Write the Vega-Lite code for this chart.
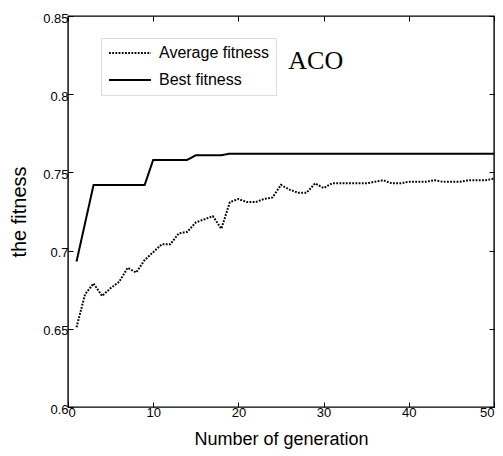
{
  "$schema": "https://vega.github.io/schema/vega-lite/v6.json",
  "width": 426,
  "height": 391,
  "autosize": "none",
  "padding": {"left": 68, "top": 16, "right": 9, "bottom": 49},
  "background": "white",
  "datasets": {
    "fit": [
      {"gen": 1, "fitness": 0.651, "series": "Average fitness"},
      {"gen": 2, "fitness": 0.672, "series": "Average fitness"},
      {"gen": 3, "fitness": 0.679, "series": "Average fitness"},
      {"gen": 4, "fitness": 0.671, "series": "Average fitness"},
      {"gen": 5, "fitness": 0.676, "series": "Average fitness"},
      {"gen": 6, "fitness": 0.680, "series": "Average fitness"},
      {"gen": 7, "fitness": 0.689, "series": "Average fitness"},
      {"gen": 8, "fitness": 0.686, "series": "Average fitness"},
      {"gen": 9, "fitness": 0.694, "series": "Average fitness"},
      {"gen": 10, "fitness": 0.699, "series": "Average fitness"},
      {"gen": 11, "fitness": 0.704, "series": "Average fitness"},
      {"gen": 12, "fitness": 0.704, "series": "Average fitness"},
      {"gen": 13, "fitness": 0.711, "series": "Average fitness"},
      {"gen": 14, "fitness": 0.712, "series": "Average fitness"},
      {"gen": 15, "fitness": 0.718, "series": "Average fitness"},
      {"gen": 16, "fitness": 0.720, "series": "Average fitness"},
      {"gen": 17, "fitness": 0.722, "series": "Average fitness"},
      {"gen": 18, "fitness": 0.714, "series": "Average fitness"},
      {"gen": 19, "fitness": 0.731, "series": "Average fitness"},
      {"gen": 20, "fitness": 0.733, "series": "Average fitness"},
      {"gen": 21, "fitness": 0.731, "series": "Average fitness"},
      {"gen": 22, "fitness": 0.731, "series": "Average fitness"},
      {"gen": 23, "fitness": 0.733, "series": "Average fitness"},
      {"gen": 24, "fitness": 0.734, "series": "Average fitness"},
      {"gen": 25, "fitness": 0.742, "series": "Average fitness"},
      {"gen": 26, "fitness": 0.739, "series": "Average fitness"},
      {"gen": 27, "fitness": 0.737, "series": "Average fitness"},
      {"gen": 28, "fitness": 0.737, "series": "Average fitness"},
      {"gen": 29, "fitness": 0.743, "series": "Average fitness"},
      {"gen": 30, "fitness": 0.740, "series": "Average fitness"},
      {"gen": 31, "fitness": 0.743, "series": "Average fitness"},
      {"gen": 32, "fitness": 0.743, "series": "Average fitness"},
      {"gen": 33, "fitness": 0.743, "series": "Average fitness"},
      {"gen": 34, "fitness": 0.743, "series": "Average fitness"},
      {"gen": 35, "fitness": 0.743, "series": "Average fitness"},
      {"gen": 36, "fitness": 0.744, "series": "Average fitness"},
      {"gen": 37, "fitness": 0.745, "series": "Average fitness"},
      {"gen": 38, "fitness": 0.743, "series": "Average fitness"},
      {"gen": 39, "fitness": 0.743, "series": "Average fitness"},
      {"gen": 40, "fitness": 0.744, "series": "Average fitness"},
      {"gen": 41, "fitness": 0.744, "series": "Average fitness"},
      {"gen": 42, "fitness": 0.744, "series": "Average fitness"},
      {"gen": 43, "fitness": 0.745, "series": "Average fitness"},
      {"gen": 44, "fitness": 0.744, "series": "Average fitness"},
      {"gen": 45, "fitness": 0.744, "series": "Average fitness"},
      {"gen": 46, "fitness": 0.744, "series": "Average fitness"},
      {"gen": 47, "fitness": 0.745, "series": "Average fitness"},
      {"gen": 48, "fitness": 0.745, "series": "Average fitness"},
      {"gen": 49, "fitness": 0.745, "series": "Average fitness"},
      {"gen": 50, "fitness": 0.746, "series": "Average fitness"},
      {"gen": 1, "fitness": 0.693, "series": "Best fitness"},
      {"gen": 3, "fitness": 0.742, "series": "Best fitness"},
      {"gen": 9, "fitness": 0.742, "series": "Best fitness"},
      {"gen": 10, "fitness": 0.758, "series": "Best fitness"},
      {"gen": 14, "fitness": 0.758, "series": "Best fitness"},
      {"gen": 15, "fitness": 0.761, "series": "Best fitness"},
      {"gen": 18, "fitness": 0.761, "series": "Best fitness"},
      {"gen": 19, "fitness": 0.762, "series": "Best fitness"},
      {"gen": 50, "fitness": 0.762, "series": "Best fitness"}
    ],
    "note": [
      {"gen": 25.86, "fitness": 0.8159, "label": "ACO"}
    ]
  },
  "layer": [
    {
      "data": {"name": "fit"},
      "mark": {"type": "line", "strokeWidth": 2, "strokeCap": "butt"},
      "encoding": {
        "x": {
          "field": "gen", "type": "quantitative",
          "scale": {"domain": [0, 50], "nice": false},
          "axis": {
            "orient": "bottom",
            "values": [0, 10, 20, 30, 40, 50],
            "title": "Number of generation",
            "labelPadding": 4,
            "titlePadding": 11
          }
        },
        "y": {
          "field": "fitness", "type": "quantitative",
          "scale": {"domain": [0.6, 0.85], "nice": false, "zero": false},
          "axis": {
            "orient": "left",
            "values": [0.6, 0.65, 0.7, 0.75, 0.8, 0.85],
            "format": ".2~f",
            "title": "the fitness",
            "labelOffset": 2,
            "labelPadding": 5,
            "titlePadding": 13
          }
        },
        "color": {
          "field": "series", "type": "nominal",
          "scale": {"domain": ["Average fitness", "Best fitness"], "range": ["#000000", "#000000"]},
          "legend": {"title": null}
        },
        "strokeDash": {
          "field": "series", "type": "nominal",
          "scale": {"domain": ["Average fitness", "Best fitness"], "range": [[1.8, 1.4], [1, 0]]},
          "legend": {"title": null}
        }
      }
    },
    {
      "data": {"name": "note"},
      "mark": {"type": "text", "font": "Liberation Serif", "fontSize": 26, "align": "left", "baseline": "alphabetic", "color": "#000000"},
      "encoding": {
        "x": {"field": "gen", "type": "quantitative", "axis": null},
        "y": {"field": "fitness", "type": "quantitative", "axis": null},
        "text": {"field": "label"}
      }
    },
    {
      "data": {"name": "fit"},
      "mark": {"type": "point", "opacity": 0},
      "encoding": {
        "x": {
          "field": "gen", "type": "quantitative",
          "axis": {"orient": "top", "values": [0, 10, 20, 30, 40, 50], "labels": false, "title": null}
        },
        "y": {
          "field": "fitness", "type": "quantitative",
          "axis": {"orient": "right", "values": [0.6, 0.65, 0.7, 0.75, 0.8, 0.85], "labels": false, "title": null}
        }
      }
    }
  ],
  "resolve": {"axis": {"x": "independent", "y": "independent"}},
  "config": {
    "view": {"stroke": "#000000", "strokeWidth": 1.4},
    "axis": {
      "domain": false,
      "grid": false,
      "ticks": true,
      "tickSize": -5,
      "tickColor": "#000000",
      "tickWidth": 1,
      "labelFont": "Liberation Sans",
      "labelFontSize": 13,
      "labelColor": "#000000",
      "titleFont": "Liberation Sans",
      "titleFontWeight": "normal",
      "titleColor": "#000000"
    },
    "axisX": {"titleFontSize": 18, "labelFontSize": 13},
    "axisY": {"titleFontSize": 20, "labelFontSize": 13},
    "legend": {
      "orient": "none",
      "legendX": 33,
      "legendY": 22,
      "direction": "vertical",
      "strokeColor": "#dcdcdc",
      "fillColor": "#ffffff",
      "padding": 7,
      "symbolType": "M-1,0H5",
      "symbolSize": 196,
      "symbolStrokeWidth": 2,
      "symbolStrokeColor": "#000000",
      "labelFont": "Liberation Sans",
      "labelFontSize": 16,
      "labelColor": "#000000",
      "labelOffset": 35,
      "rowPadding": 11
    }
  }
}
